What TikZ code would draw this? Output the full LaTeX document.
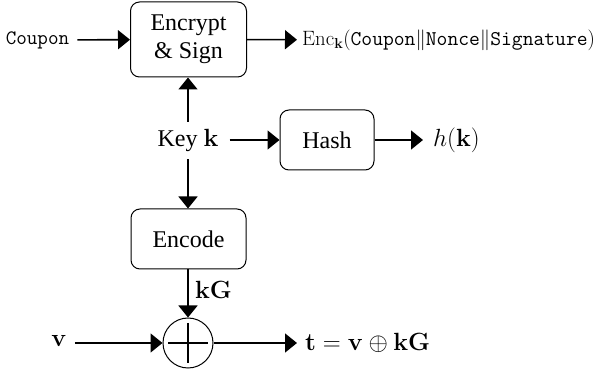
\documentclass[tikz,border=0pt]{standalone}
\usepackage[no-math]{fontspec}
\setmainfont{Liberation Serif}
\usetikzlibrary{arrows.meta}
\begin{document}
\begin{tikzpicture}[x=1pt,y=-1pt,
  box/.style={draw, line width=1pt, rounded corners=9pt, inner sep=0pt,
    align=center, font=\fontsize{24}{26}\selectfont},
  conn/.style={line width=1.6pt, -{Triangle[length=12pt,width=19pt]}},
  lbl/.style={inner sep=0pt, font=\fontsize{24}{26}\selectfont},
  mono/.style={inner sep=0pt, font=\fontsize{20}{22}\selectfont}]
\path[use as bounding box] (0,0) rectangle (598,374);

% processing blocks
\node[box, minimum width=116pt, minimum height=75pt] (enc) at (188.5,39.5) {Encrypt\\[2pt]\& Sign};
\node[box, minimum width=94pt, minimum height=60pt] (hash) at (327,140) {Hash};
\node[box, minimum width=115pt, minimum height=60pt] (encode) at (188.5,239) {Encode};
\node[draw, circle, line width=1pt, minimum size=50pt, inner sep=0pt] (sum) at (188,343) {};
\draw[line width=1.8pt] (sum.center) ++(-20,0) -- ++(40,0);
\draw[line width=1.8pt] (sum.center) ++(0,-20) -- ++(0,40);

% inputs and outputs
\node[mono, font=\fontsize{20.5}{22}\selectfont\ttfamily] (coupon) at (37.5,40) {Coupon};
\node[mono, font=\fontsize{21}{23}\selectfont, anchor=west] (cipher) at (302,40)
  {$\mathrm{Enc}_{\mathbf{k}}(\texttt{Coupon}\|\texttt{Nonce}\|\texttt{Signature})$};
\node[lbl] (key) at (188,140) {Key $\mathbf{k}$};
\node[lbl, anchor=west] (hk) at (433,140) {$h(\mathbf{k})$};
\node[lbl, anchor=west] (kg) at (195,290) {$\mathbf{kG}$};
\node[lbl, font=\fontsize{28}{30}\selectfont] (v) at (59,341) {$\mathbf{v}$};
\node[lbl, font=\fontsize{25}{27}\selectfont, anchor=west] (t) at (305,343)
  {$\mathbf{t}=\mathbf{v}\oplus\mathbf{kG}$};

% connectors
\draw[conn, shorten <=8pt] (coupon) -- (enc);
\draw[conn, shorten >=5pt] (enc) -- (cipher);
\draw[conn, shorten <=7pt] (key) -- (key |- enc.south);
\draw[conn, shorten <=11pt] (key) -- (hash);
\draw[conn, shorten >=10pt] (hash) -- (hk);
\draw[conn, shorten <=8pt] (key) -- (key |- encode.north);
\draw[conn] (encode.south -| sum) -- (sum);
\draw[conn, shorten <=8pt] (v.east |- sum) -- (sum);
\draw[conn, shorten >=8pt] (sum) -- (t);
\end{tikzpicture}
\end{document}
